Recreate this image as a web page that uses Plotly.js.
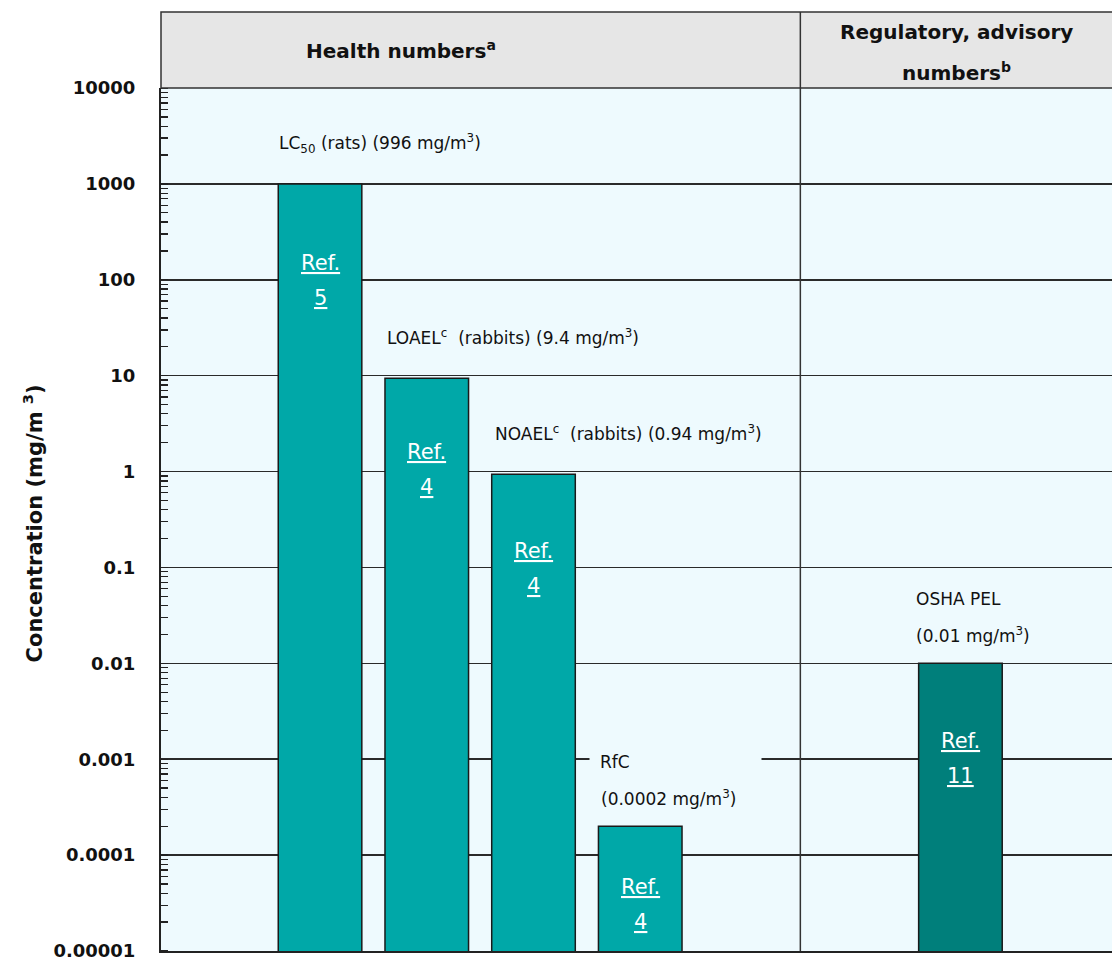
<!DOCTYPE html>
<html>
<head>
<meta charset="utf-8">
<script src="https://cdn.plot.ly/plotly-3.0.1.min.js"></script>
<style>html,body{margin:0;padding:0;background:#fff;}#chart{width:1112px;height:962px;}</style>
</head>
<body>
<div id="chart"></div>
<script>
// ---- data ----
const categories = ['LC50', 'LOAEL', 'NOAEL', 'RfC', 'OSHA PEL'];
const values = [996, 9.4, 0.94, 0.0002, 0.01];
const refNumbers = ['5', '4', '4', '4', '11'];
const labelLine1 = [
  'LC<sub>50</sub> (rats) (996 mg/m<sup>3</sup>)',
  'LOAEL<sup>c</sup>  (rabbits) (9.4 mg/m<sup>3</sup>)',
  'NOAEL<sup>c</sup>  (rabbits) (0.94 mg/m<sup>3</sup>)',
  'RfC',
  'OSHA PEL'
];
const labelLine2 = ['', '', '', '(0.0002 mg/m<sup>3</sup>)', '(0.01 mg/m<sup>3</sup>)'];
const slotOrder = ['LC50', 'LOAEL', 'NOAEL', 'RfC', 'gapA', 'gapB', 'OSHA PEL'];
const tickValues = [10000, 1000, 100, 10, 1, 0.1, 0.01, 0.001, 0.0001, 0.00001];
const tickLabels = ['10000', '1000', '100', '10', '1', '0.1', '0.01', '0.001', '0.0001', '0.00001'];
const groupHealth = 'Health numbers<sup>a</sup>';
const groupRegLine1 = 'Regulatory, advisory';
const groupRegLine2 = 'numbers<sup>b</sup>';
const yTitle = 'Concentration (mg/m <sup>3</sup>)';

// ---- styles ----
const plotBg = '#eefafe';
const barColors = ['#00a8a8', '#00a8a8', '#00a8a8', '#00a8a8', '#007f7b'];
const FONT = 'DejaVu Sans, Verdana, sans-serif';
const refOffsets = [79, 74, 77, 61, 78];
const labelXShift = [-42, -41, -40, -40, -45];

const trace = {
  type: 'bar',
  x: categories,
  y: values,
  width: 0.783,
  marker: {color: barColors, line: {color: '#1a1a1a', width: 1.5}},
  hoverinfo: 'x+y'
};

const annotations = [];
categories.forEach((c, i) => {
  const ly = Math.log10(values[i]);
  const lf = {family: FONT, size: 17, color: '#111'};
  if (labelLine2[i]) {
    const masked = (i === 3);
    annotations.push({x: c, y: ly, xref: 'x', yref: 'y', text: labelLine1[i], showarrow: false,
      xanchor: 'left', yanchor: 'middle', yshift: 64, font: lf,
      bgcolor: masked ? plotBg : 'rgba(0,0,0,0)', borderpad: masked ? 10 : 1,
      width: masked ? 151 : null, align: 'left',
      xshift: masked ? labelXShift[i] - 11 : labelXShift[i] - 1});
    annotations.push({x: c, y: ly, xref: 'x', yref: 'y', text: labelLine2[i], showarrow: false,
      xanchor: 'left', yanchor: 'middle', xshift: labelXShift[i] - 1, yshift: 28, font: lf});
  } else {
    annotations.push({x: c, y: ly, xref: 'x', yref: 'y', text: labelLine1[i], showarrow: false,
      xanchor: 'left', yanchor: 'middle', xshift: labelXShift[i] - 1, yshift: 41, font: lf});
  }
  annotations.push({x: c, y: ly, xref: 'x', yref: 'y', text: '<u>Ref.</u>', showarrow: false,
    xanchor: 'center', yanchor: 'middle', yshift: -refOffsets[i],
    font: {family: FONT, size: 21, color: '#ffffff'}});
  annotations.push({x: c, y: ly, xref: 'x', yref: 'y', text: '<u>' + refNumbers[i] + '</u>', showarrow: false,
    xanchor: 'center', yanchor: 'middle', yshift: -refOffsets[i] - 35,
    font: {family: FONT, size: 21, color: '#ffffff'}});
});

annotations.push({xref: 'paper', yref: 'paper', x: 0.252, y: 1.044, text: '<b>' + groupHealth + '</b>',
  showarrow: false, xanchor: 'center', yanchor: 'middle', font: {family: FONT, size: 20, color: '#111'}});
annotations.push({xref: 'paper', yref: 'paper', x: 0.837, y: 1.065, text: '<b>' + groupRegLine1 + '</b>',
  showarrow: false, xanchor: 'center', yanchor: 'middle', font: {family: FONT, size: 20, color: '#111'}});
annotations.push({xref: 'paper', yref: 'paper', x: 0.837, y: 1.019, text: '<b>' + groupRegLine2 + '</b>',
  showarrow: false, xanchor: 'center', yanchor: 'middle', font: {family: FONT, size: 20, color: '#111'}});
annotations.push({xref: 'paper', yref: 'paper', x: -0.135, y: 0.495, text: '<b>' + yTitle + '</b>',
  textangle: -90, showarrow: false, xanchor: 'center', yanchor: 'middle', font: {family: FONT, size: 21, color: '#111'}});

const layout = {
  width: 1112, height: 962,
  margin: {l: 161, r: 0, t: 88, b: 11},
  paper_bgcolor: '#ffffff',
  plot_bgcolor: plotBg,
  showlegend: false,
  xaxis: {type: 'category', categoryorder: 'array', categoryarray: slotOrder,
    range: [-1.49, 7.42], showticklabels: false, ticks: '', showgrid: false, zeroline: false,
    showline: true, linecolor: '#222', linewidth: 2, fixedrange: true},
  yaxis: {type: 'log', range: [-5, 4], tickvals: tickValues, ticktext: tickLabels,
    tickfont: {family: FONT, size: 18, color: '#111', weight: 'bold'},
    ticks: '', ticklabelstandoff: 20,
    showgrid: true, gridcolor: '#2a2a2a', gridwidth: 1.6, zeroline: false,
    showline: true, linecolor: '#222', linewidth: 2,
    minor: {ticks: 'inside', dtick: 'D1', ticklen: 7, tickcolor: '#222', tickwidth: 1.3, showgrid: false},
    fixedrange: true},
  shapes: [
    {type: 'rect', xref: 'paper', yref: 'paper', x0: 0, x1: 1.01, y0: 1, y1: 1.088,
      fillcolor: '#e6e6e6', line: {color: '#333', width: 1.5}, layer: 'above'},
    {type: 'line', xref: 'x', yref: 'paper', x0: 4.5, x1: 4.5, y0: 0, y1: 1.088,
      line: {color: '#333', width: 1.5}, layer: 'above'}
  ],
  annotations: annotations
};

Plotly.newPlot('chart', [trace], layout, {displayModeBar: false, staticPlot: true});
</script>
</body>
</html>
